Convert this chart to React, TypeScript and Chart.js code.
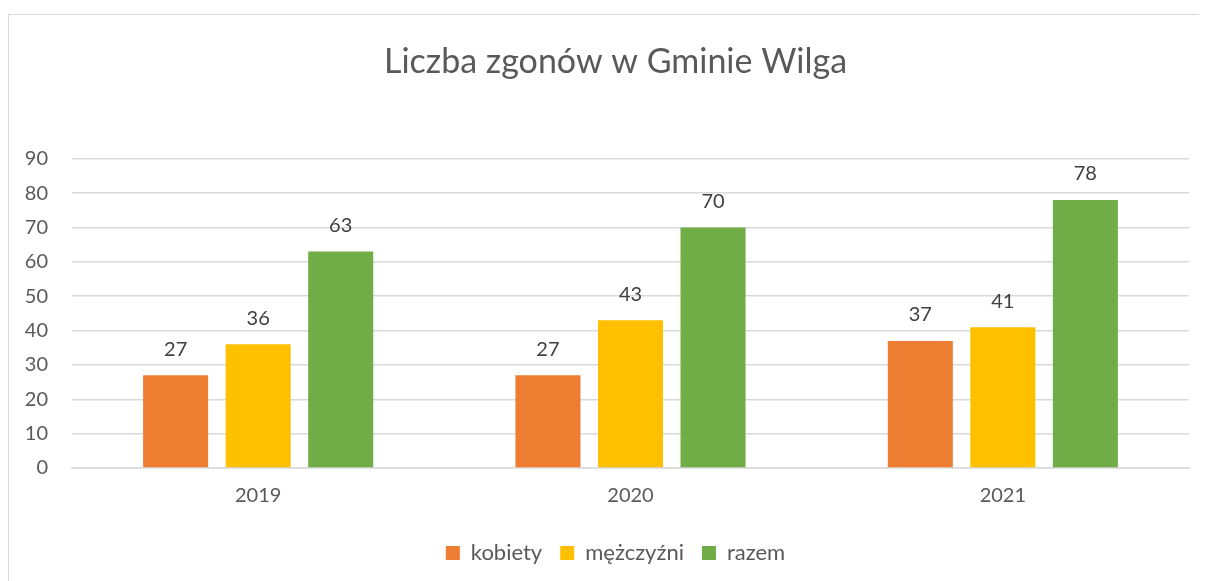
import React, { useEffect, useRef } from "react";
import { Chart, registerables } from "chart.js";

Chart.register(...registerables);

const TITLE = "Liczba zgonów w Gminie Wilga";
const categories = ["2019", "2020", "2021"];
const seriesNames = ["kobiety", "mężczyźni", "razem"];
const kobiety = [27, 27, 37];
const mezczyzni = [36, 43, 41];
const razem = [63, 70, 78];
const seriesColors = ["#ED7D31", "#FFC000", "#70AD47"];
const yMin = 0;
const yMax = 90;
const yStep = 10;

const FONT = "Lato, 'Open Sans', sans-serif";

const dataLabels = {
  id: "dataLabels",
  afterDatasetsDraw(chart: any) {
    const ctx = chart.ctx;
    ctx.save();
    ctx.fillStyle = "#404040";
    ctx.font = `20px ${FONT}`;
    ctx.textAlign = "center";
    ctx.textBaseline = "middle";
    chart.data.datasets.forEach((ds: any, i: number) => {
      const meta = chart.getDatasetMeta(i);
      meta.data.forEach((bar: any, j: number) => {
        ctx.fillText(String(ds.data[j]), bar.x, bar.y - 26);
      });
    });
    ctx.restore();
  },
};

export default function App() {
  const ref = useRef<HTMLCanvasElement>(null);
  useEffect(() => {
    document.body.style.overflow = "hidden";
    document.documentElement.style.overflow = "hidden";
    const chart = new Chart(ref.current!, {
      type: "bar",
      data: {
        labels: categories,
        datasets: [kobiety, mezczyzni, razem].map((d, i) => ({
          label: seriesNames[i],
          data: d,
          backgroundColor: seriesColors[i],
          barPercentage: 0.788,
          categoryPercentage: 0.665,
        })),
      },
      options: {
        animation: false,
        responsive: true,
        maintainAspectRatio: false,
        layout: { padding: { left: 0, right: 0, top: 0, bottom: 7 } },
        plugins: {
          title: {
            display: true,
            text: TITLE,
            color: "#595959",
            font: { family: FONT, size: 34, weight: "normal" },
            padding: { top: 27, bottom: 76 },
          },
          legend: {
            position: "bottom",
            labels: {
              color: "#595959",
              font: { family: FONT, size: 22 },
              boxWidth: 14,
              boxHeight: 14,
              padding: 18,
            },
          },
          tooltip: { enabled: false },
        },
        scales: {
          x: {
            grid: { display: false },
            border: { color: "#D9D9D9", width: 1.5 },
            ticks: { color: "#595959", font: { family: FONT, size: 20 }, padding: 8 },
            afterFit(scale: any) {
              scale.height = scale.height + 8;
            },
          },
          y: {
            min: yMin,
            max: yMax,
            afterFit(scale: any) {
              scale.width = 63;
            },
            ticks: {
              stepSize: yStep,
              color: "#595959",
              font: { family: FONT, size: 20 },
              padding: 24,
            },
            grid: { color: "#D9D9D9", lineWidth: 1.5, drawTicks: false },
            border: { display: false },
          },
          yRight: {
            position: "right",
            min: yMin,
            max: yMax,
            grid: { display: false, drawTicks: false },
            ticks: { display: false },
            border: { display: false },
            afterFit(scale: any) {
              scale.width = 33;
            },
          },
        },
      },
      plugins: [dataLabels],
    });
    return () => chart.destroy();
  }, []);
  return (
    <div
      style={{
        marginTop: 6,
        width: 1214,
        height: 567,
        borderLeft: "1.5px solid #D9D9D9",
        borderTop: "1.5px solid #D9D9D9",
        boxSizing: "border-box",
        position: "relative",
      }}
    >
      <canvas ref={ref} />
    </div>
  );
}
